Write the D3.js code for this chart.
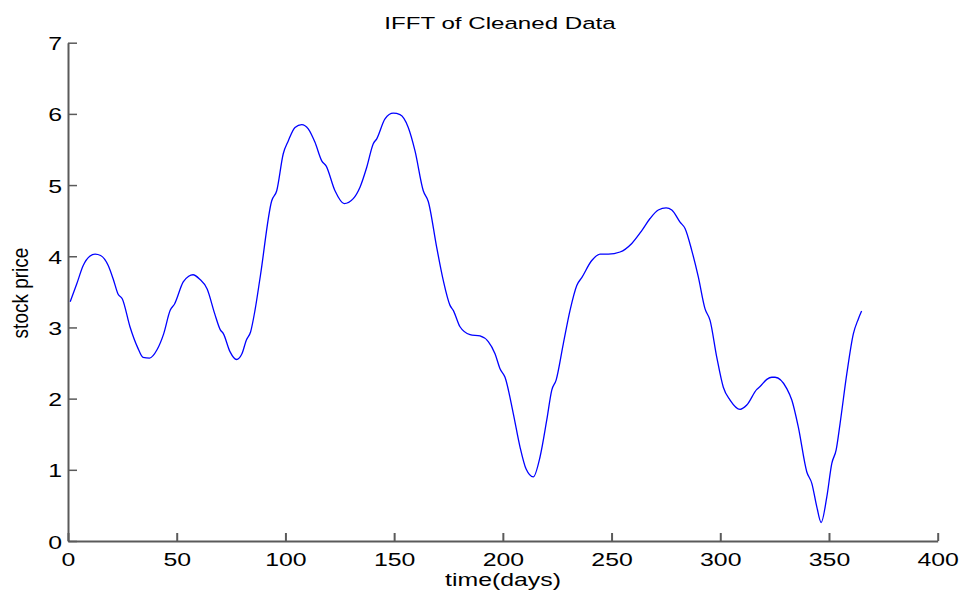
<!DOCTYPE html>
<html>
<head>
<meta charset="utf-8">
<script src="https://cdn.jsdelivr.net/npm/d3@7"></script>
<style>
  html, body { margin: 0; padding: 0; background: #fff; }
  svg { display: block; font-family: "Liberation Sans", Arial, Helvetica, sans-serif; }
</style>
</head>
<body>
<svg id="chart" width="964" height="594"></svg>
<script>
const days = [1, 4, 7, 10, 12.5, 15, 18.5, 21, 23, 25, 28.5, 32, 34.5, 37.5, 41, 44, 47, 49, 53, 55.5,
  57.5, 60.5, 64, 67.5, 70, 71.5, 74.5, 77.5, 80, 82, 84, 86, 88.5, 93.7, 96, 99, 101.3, 104.4, 107.5, 110.5,
  113.6, 116.7, 118.7, 122.8, 127, 131.2, 134.3, 137.4, 140.4, 142, 145.8, 149.6, 152.7, 156.5, 159.6, 163.4, 165.7, 169.6, 172.6, 175.7,
  177.2, 180.3, 184.9, 189.5, 193.3, 196.4, 198.7, 201, 204.8, 207.9, 210.7, 214, 217.1, 220.2, 222.5, 224.5, 227.8, 230.9, 234, 236.3,
  240.9, 244.7, 248.5, 253.9, 259.3, 263.9, 267.7, 271.5, 275.1, 277.7, 281.5, 283.8, 286.9, 289.9, 293, 295.3, 298.4, 301.4, 304.5, 309.1,
  312.2, 316.8, 318.3, 321.4, 323.7, 325.2, 330.6, 332.9, 335.9, 339.8, 342.1, 344.4, 346.4, 349, 351.3, 353.3, 355.1, 358.2, 361.2, 363.5, 365];
const price = [3.36, 3.61, 3.87, 4.0, 4.03, 4.01, 3.87, 3.66, 3.47, 3.40, 3.01, 2.72, 2.58, 2.57, 2.69, 2.91, 3.24, 3.33, 3.64, 3.72,
  3.74, 3.68, 3.54, 3.19, 2.97, 2.91, 2.66, 2.55, 2.63, 2.82, 2.94, 3.24, 3.73, 4.78, 4.92, 5.44, 5.62, 5.81, 5.85, 5.79,
  5.60, 5.34, 5.27, 4.92, 4.74, 4.81, 4.97, 5.25, 5.58, 5.65, 5.93, 6.01, 5.99, 5.81, 5.48, 4.92, 4.77, 4.12, 3.66, 3.31,
  3.24, 3.01, 2.90, 2.88, 2.80, 2.63, 2.42, 2.30, 1.79, 1.32, 1.01, 0.90, 1.18, 1.70, 2.12, 2.26, 2.77, 3.24, 3.59, 3.70,
  3.94, 4.03, 4.03, 4.06, 4.18, 4.36, 4.53, 4.65, 4.68, 4.65, 4.48, 4.39, 4.08, 3.71, 3.26, 3.10, 2.58, 2.16, 1.98, 1.85,
  1.91, 2.13, 2.17, 2.27, 2.30, 2.30, 2.14, 1.98, 1.60, 0.97, 0.81, 0.48, 0.26, 0.62, 1.09, 1.28, 1.65, 2.35, 2.91, 3.12, 3.23];
const xTicks = [0, 50, 100, 150, 200, 250, 300, 350, 400];
const yTicks = [0, 1, 2, 3, 4, 5, 6, 7];
const titleText = "IFFT of Cleaned Data";
const xLabelText = "time(days)";
const yLabelText = "stock price";

(function () {
const svg = d3.select("#chart");
const mLeft = 68, mRight = 937.7, mTop = 42.7, mBottom = 541;
const SX = 1.42; // horizontal stretch of text in the reference

const x = d3.scaleLinear().domain([0, 400]).range([mLeft, mRight]);
const y = d3.scaleLinear().domain([0, 7]).range([mBottom, mTop]);

const axisColor = "#5a5a5a";

// X axis
const gx = svg.append("g").attr("transform", `translate(0,${mBottom})`)
  .call(d3.axisBottom(x).tickValues(xTicks).tickFormat(d3.format("d")).tickSize(-8).tickSizeOuter(0).tickPadding(13));
gx.select(".domain").attr("stroke", axisColor).attr("stroke-width", 2);
gx.selectAll(".tick line").attr("stroke", axisColor).attr("stroke-width", 2);
gx.selectAll(".tick text").attr("fill", "#000").attr("font-size", 17.5).attr("font-family", "Liberation Sans, Arial, sans-serif")
  .attr("transform", `scale(${SX},1)`);

// Y axis
const gy = svg.append("g").attr("transform", `translate(${mLeft},0)`)
  .call(d3.axisLeft(y).tickValues(yTicks).tickFormat(d3.format("d")).tickSize(-9).tickSizeOuter(0).tickPadding(6));
gy.select(".domain").attr("stroke", axisColor).attr("stroke-width", 2);
gy.selectAll(".tick line").attr("stroke", axisColor).attr("stroke-width", 1.5);
gy.selectAll(".tick text").attr("fill", "#000").attr("font-size", 17.5).attr("font-family", "Liberation Sans, Arial, sans-serif")
  .attr("x", -6 / SX).attr("dy", "0.40em")
  .attr("transform", `scale(${SX},1)`);

// Line
const data = days.map((d, i) => ({ d, p: price[i] }));
svg.append("path").datum(data)
  .attr("fill", "none").attr("stroke", "#0000ff").attr("stroke-width", 1.3)
  .attr("d", d3.line().x(v => x(v.d)).y(v => y(v.p)).curve(d3.curveMonotoneX));

// Title
svg.append("g").attr("transform", `translate(500,29) scale(${SX},1)`)
  .append("text").attr("text-anchor", "middle").attr("font-size", 17).attr("fill", "#000").text(titleText);

// X label
svg.append("g").attr("transform", `translate(503,586) scale(${SX},1)`)
  .append("text").attr("text-anchor", "middle").attr("font-size", 17.5).attr("fill", "#000").text(xLabelText);

// Y label
svg.append("g").attr("transform", `translate(28,293) rotate(-90) scale(1,1.15)`)
  .append("text").attr("text-anchor", "middle").attr("font-size", 19).attr("fill", "#000").text(yLabelText);
})();
</script>
</body>
</html>
